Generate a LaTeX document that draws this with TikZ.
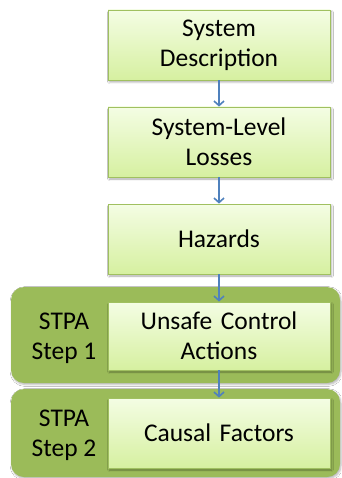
\documentclass[tikz,border=0pt]{standalone}
\usepackage{fontspec}
\setmainfont{Carlito}
\usetikzlibrary{arrows.meta,shadows.blur}
\definecolor{olivegrn}{RGB}{155,187,89}
\definecolor{boxtop}{RGB}{244,253,228}
\definecolor{boxbot}{RGB}{214,240,160}
\definecolor{boxline}{RGB}{160,192,96}
\definecolor{arrowblue}{RGB}{79,129,189}
\tikzset{
  stepbox/.style={draw=boxline, line width=0.8pt, top color=boxtop, bottom color=boxbot,
    minimum width=222pt, text width=210pt, align=center, inner sep=0pt,
    blur shadow={shadow xshift=1.5pt, shadow yshift=-2pt, shadow blur steps=4, shadow opacity=35},
    font=\fontsize{25.5}{30}\selectfont},
  stageframe/.style={fill=olivegrn, draw=none, rounded corners=13pt,
    blur shadow={shadow xshift=1pt, shadow yshift=-1.5pt, shadow blur steps=4, shadow opacity=30}},
  stagelabel/.style={align=center, inner sep=0pt, font=\fontsize{25.5}{30}\selectfont},
  flow/.style={draw=arrowblue, line width=1.6pt, -{Straight Barb[length=4.5pt,width=10pt,line width=1.6pt]}}
}
\begin{document}
\begin{tikzpicture}[x=1pt,y=-1pt]
\useasboundingbox (0,0) rectangle (341,478);
\fill[white] (0,0) rectangle (341,478);
% stage frames
\path[stageframe] (11,287) rectangle (340,383);
\path[stageframe] (11,389) rectangle (340,477);
% boxes
\node[stepbox, minimum height=70pt] (sd) at (219,45) {System\\Description};
\node[stepbox, minimum height=70pt] (sl) at (219,142) {System-Level\\Losses};
\node[stepbox, minimum height=70pt] (hz) at (219,239) {Hazards};
\node[stepbox, minimum height=68pt] (uca) at (219,336) {Unsafe Control\\Actions};
\node[stepbox, minimum height=70pt] (cf) at (219,433) {Causal Factors};
% stage labels
\node[stagelabel] (s1) at (64,338) {STPA\\Step 1};
\node[stagelabel] (s2) at (64,435) {STPA\\Step 2};
% arrows
\draw[flow] (sd) -- (sl);
\draw[flow] (sl) -- (hz);
\draw[flow] (hz) -- (uca);
\draw[flow] (uca) -- (cf);
\end{tikzpicture}
\end{document}
